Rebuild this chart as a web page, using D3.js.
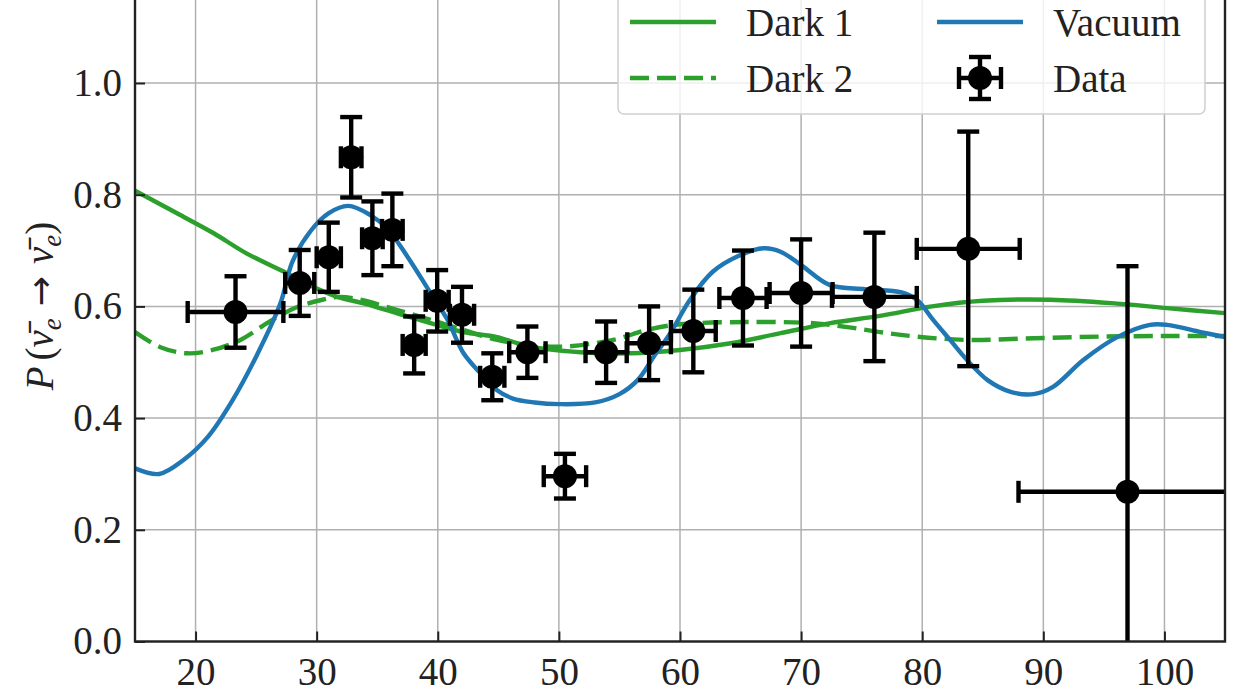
<!DOCTYPE html>
<html>
<head>
<meta charset="utf-8">
<script src="https://cdn.jsdelivr.net/npm/d3@7"></script>
<style>
  html, body { margin: 0; padding: 0; background: #fff; }
  svg { display: block; font-family: "Liberation Serif", "DejaVu Serif", serif; }
  .tick text { font-family: "Liberation Serif", "DejaVu Serif", serif; font-size: 39px; fill: #222; }
  .legend-text { font-size: 39px; fill: #222; }
</style>
</head>
<body>
<div id="chart"></div>
<script>
// ---- data ----
// binned measurements (x = bin centre, y = survival probability)
var dataX    = [23.3, 28.6, 31.0, 32.85, 34.6, 36.25, 38.05, 39.95, 42.0, 44.5, 47.4, 50.5, 53.9, 57.45, 61.1, 65.2, 70.0, 76.05, 83.8, 96.95];
var dataY    = [0.590, 0.642, 0.688, 0.867, 0.722, 0.737, 0.531, 0.610, 0.585, 0.474, 0.518, 0.296, 0.518, 0.534, 0.556, 0.615, 0.624, 0.617, 0.703, 0.268];
var dataXErr = [3.95, 1.2, 1.0, 0.85, 0.85, 0.85, 0.95, 0.95, 1.0, 1.0, 1.5, 1.75, 1.7, 1.8, 1.85, 1.95, 2.6, 3.5, 4.25, 9.0];
var dataYErr = [0.064, 0.059, 0.062, 0.072, 0.066, 0.065, 0.051, 0.055, 0.050, 0.042, 0.046, 0.040, 0.055, 0.066, 0.074, 0.085, 0.096, 0.115, 0.21, 0.404];

// model curves
var vacuumX = [15, 17, 19, 21, 23, 25, 27, 28, 29.5, 31, 32.6, 34.4, 35.8, 37.5, 39.4, 40.8, 42.1, 43.5, 44.9, 46.2, 48, 50, 53, 55, 56.5, 57.8, 59.2, 60.8, 62.7, 65, 66.9, 68.3, 70, 72.4, 75.3, 78.3, 79.6, 80.9, 82.3, 83.7, 85.4, 87.3, 89.2, 90.8, 93.3, 96.1, 98.8, 100.2, 103, 105];
var vacuumY = [0.31, 0.30, 0.325, 0.366, 0.43, 0.51, 0.605, 0.68, 0.735, 0.767, 0.78, 0.764, 0.74, 0.689, 0.624, 0.576, 0.517, 0.481, 0.45, 0.435, 0.428, 0.425, 0.428, 0.443, 0.468, 0.509, 0.552, 0.611, 0.662, 0.692, 0.704, 0.698, 0.674, 0.638, 0.631, 0.625, 0.611, 0.576, 0.54, 0.504, 0.468, 0.447, 0.443, 0.456, 0.504, 0.545, 0.567, 0.567, 0.554, 0.545];

var dark1X = [15, 18.7, 21.5, 24.2, 27.5, 29.7, 31.7, 33.8, 36.6, 39.4, 42.1, 44.9, 47.6, 51.8, 55.9, 60, 64.2, 68.3, 72.4, 76.5, 80.8, 85, 90.6, 96.1, 100.2, 105];
var dark1Y = [0.807, 0.764, 0.731, 0.695, 0.66, 0.635, 0.617, 0.606, 0.588, 0.57, 0.554, 0.545, 0.528, 0.518, 0.516, 0.522, 0.534, 0.552, 0.57, 0.583, 0.6, 0.61, 0.612, 0.605, 0.597, 0.588];

var dark2X = [15, 17.1, 19.3, 21.4, 23.7, 25.9, 27.5, 28.4, 30.3, 31.9, 33.8, 36.6, 39.4, 42.1, 44.9, 47.6, 50.4, 54.5, 57.3, 60, 65.5, 71, 73.8, 76.5, 79.5, 83.7, 89.2, 94.7, 100.2, 105];
var dark2Y = [0.554, 0.527, 0.516, 0.522, 0.54, 0.57, 0.59, 0.599, 0.611, 0.617, 0.611, 0.594, 0.576, 0.558, 0.54, 0.531, 0.528, 0.54, 0.558, 0.568, 0.572, 0.57, 0.563, 0.554, 0.546, 0.54, 0.543, 0.546, 0.547, 0.547];

var xTicks = [20, 30, 40, 50, 60, 70, 80, 90, 100];
var yTicks = [0.0, 0.2, 0.4, 0.6, 0.8, 1.0];

var GREEN = "#2ca02c", BLUE = "#1f77b4";
var LW = 4.4;       // curve / error bar width
var cap = 11;       // error bar cap half-length
var markR = 12;

// ---- layout ----
var width = 1250, height = 700;
var plotLeft = 135, plotRight = 1225, plotBottom = 641.5;
var unitY = 558.5;              // pixels per 1.0 of probability
var yMax = 1.16;                // top of axes sits just above the window

var x = d3.scaleLinear().domain([15, 105]).range([plotLeft, plotRight]);
var y = d3.scaleLinear().domain([0, yMax]).range([plotBottom, plotBottom - yMax * unitY]);
var plotTop = y(yMax);

var svg = d3.select("#chart").append("svg")
  .attr("width", width)
  .attr("height", height);

svg.append("defs").append("clipPath")
    .attr("id", "plot-clip")
  .append("rect")
    .attr("x", plotLeft)
    .attr("y", plotTop)
    .attr("width", plotRight - plotLeft)
    .attr("height", plotBottom - plotTop);

// grid
var grid = svg.append("g").attr("class", "grid");
grid.selectAll(".gx").data(xTicks).enter().append("line")
  .attr("x1", function(d) { return x(d); })
  .attr("x2", function(d) { return x(d); })
  .attr("y1", plotTop).attr("y2", plotBottom)
  .attr("stroke", "#b0b0b0").attr("stroke-width", 1.5);
grid.selectAll(".gy").data(yTicks).enter().append("line")
  .attr("x1", plotLeft).attr("x2", plotRight)
  .attr("y1", function(d) { return y(d); })
  .attr("y2", function(d) { return y(d); })
  .attr("stroke", "#b0b0b0").attr("stroke-width", 1.5);

// curves
var plot = svg.append("g").attr("clip-path", "url(#plot-clip)");

var line = d3.line()
  .x(function(d) { return x(d[0]); })
  .y(function(d) { return y(d[1]); })
  .curve(d3.curveCatmullRom.alpha(0.5));

var curves = [
  { xs: dark1X,  ys: dark1Y,  color: GREEN, dash: "none" },
  { xs: dark2X,  ys: dark2Y,  color: GREEN, dash: "19,8" },
  { xs: vacuumX, ys: vacuumY, color: BLUE,  dash: "none" }
];

curves.forEach(function(c) {
  plot.append("path")
    .datum(d3.zip(c.xs, c.ys))
    .attr("d", line)
    .attr("fill", "none")
    .attr("stroke", c.color)
    .attr("stroke-width", LW)
    .attr("stroke-dasharray", c.dash);
});

// error bars + markers
var points = dataX.map(function(d, i) {
  return { x: d, y: dataY[i], ex: dataXErr[i], ey: dataYErr[i] };
});

var pts = plot.append("g").selectAll(".pt")
  .data(points).enter().append("g")
  .attr("class", "pt")
  .attr("stroke", "#000")
  .attr("stroke-width", LW);

pts.append("line")   // horizontal bar
  .attr("x1", function(d) { return x(d.x - d.ex); })
  .attr("x2", function(d) { return x(d.x + d.ex); })
  .attr("y1", function(d) { return y(d.y); })
  .attr("y2", function(d) { return y(d.y); });
pts.append("line")   // vertical bar
  .attr("x1", function(d) { return x(d.x); })
  .attr("x2", function(d) { return x(d.x); })
  .attr("y1", function(d) { return y(d.y - d.ey); })
  .attr("y2", function(d) { return y(d.y + d.ey); });
[-1, 1].forEach(function(s) {
  pts.append("line")   // caps on x bar
    .attr("x1", function(d) { return x(d.x + s * d.ex); })
    .attr("x2", function(d) { return x(d.x + s * d.ex); })
    .attr("y1", function(d) { return y(d.y) - cap; })
    .attr("y2", function(d) { return y(d.y) + cap; });
  pts.append("line")   // caps on y bar
    .attr("x1", function(d) { return x(d.x) - cap; })
    .attr("x2", function(d) { return x(d.x) + cap; })
    .attr("y1", function(d) { return y(d.y + s * d.ey); })
    .attr("y2", function(d) { return y(d.y + s * d.ey); });
});
pts.append("circle")
  .attr("cx", function(d) { return x(d.x); })
  .attr("cy", function(d) { return y(d.y); })
  .attr("r", markR)
  .attr("stroke", "none")
  .attr("fill", "#000");

// axes (ticks point inward)
var xAxis = d3.axisBottom(x).tickValues(xTicks).tickSize(-10).tickPadding(16)
  .tickFormat(d3.format("d"));
var yAxis = d3.axisLeft(y).tickValues(yTicks).tickSize(-10).tickPadding(13)
  .tickFormat(d3.format(".1f"));

var gx = svg.append("g").attr("transform", "translate(0," + plotBottom + ")").call(xAxis);
var gy = svg.append("g").attr("transform", "translate(" + plotLeft + ",0)").call(yAxis);
[gx, gy].forEach(function(g) {
  g.attr("font-family", null).attr("font-size", null);
  g.select(".domain").remove();
  g.selectAll(".tick line").attr("stroke", "#222").attr("stroke-width", 2);
});

// frame
svg.append("rect")
  .attr("x", plotLeft).attr("y", plotTop)
  .attr("width", plotRight - plotLeft).attr("height", plotBottom - plotTop)
  .attr("fill", "none")
  .attr("stroke", "#222")
  .attr("stroke-width", 2.4);

// y label: P(nu-bar_e -> nu-bar_e)
var ylab = svg.append("text")
  .attr("transform", "translate(53,306) rotate(-90)")
  .attr("text-anchor", "middle")
  .style("font-size", "39px")
  .style("fill", "#222");
ylab.append("tspan").style("font-style", "italic").text("P");
ylab.append("tspan").attr("dx", 6).text("(");
ylab.append("tspan").style("font-style", "italic").text("\u03BD\u0304");
ylab.append("tspan").style("font-style", "italic").style("font-size", "27px").attr("dy", 8).text("e");
ylab.append("tspan").attr("dy", -8).attr("dx", 12)
  .style("font-family", "'DejaVu Sans', sans-serif").style("font-size", "36px")
  .text("\u2192");
ylab.append("tspan").attr("dx", 12).style("font-style", "italic").text("\u03BD\u0304");
ylab.append("tspan").style("font-style", "italic").style("font-size", "27px").attr("dy", 8).text("e");
ylab.append("tspan").attr("dy", -8).text(")");

// legend
var legend = svg.append("g").attr("class", "legend");
legend.append("rect")
  .attr("x", 618).attr("y", -20)
  .attr("width", 587).attr("height", 134)
  .attr("rx", 6)
  .attr("fill", "#fff").attr("fill-opacity", 0.8)
  .attr("stroke", "#cfcfcf").attr("stroke-width", 1.5);

var legendItems = [
  { label: "Dark 1", kind: "line", color: GREEN, dash: "none", lx: 630, tx: 746, cy: 22 },
  { label: "Dark 2", kind: "line", color: GREEN, dash: "19,8", lx: 630, tx: 746, cy: 78 },
  { label: "Vacuum", kind: "line", color: BLUE, dash: "none", lx: 937, tx: 1053, cy: 22 },
  { label: "Data", kind: "data", lx: 937, tx: 1053, cy: 78 }
];

legendItems.forEach(function(d) {
  if (d.kind === "line") {
    legend.append("line")
      .attr("x1", d.lx).attr("x2", d.lx + 86)
      .attr("y1", d.cy).attr("y2", d.cy)
      .attr("stroke", d.color)
      .attr("stroke-width", LW)
      .attr("stroke-dasharray", d.dash);
  } else {
    var cx = d.lx + 43, arm = 21;
    var g = legend.append("g").attr("stroke", "#000").attr("stroke-width", LW);
    g.append("line").attr("x1", cx - arm).attr("x2", cx + arm).attr("y1", d.cy).attr("y2", d.cy);
    g.append("line").attr("x1", cx).attr("x2", cx).attr("y1", d.cy - arm).attr("y2", d.cy + arm);
    g.append("line").attr("x1", cx - arm).attr("x2", cx - arm).attr("y1", d.cy - cap).attr("y2", d.cy + cap);
    g.append("line").attr("x1", cx + arm).attr("x2", cx + arm).attr("y1", d.cy - cap).attr("y2", d.cy + cap);
    g.append("line").attr("x1", cx - cap).attr("x2", cx + cap).attr("y1", d.cy - arm).attr("y2", d.cy - arm);
    g.append("line").attr("x1", cx - cap).attr("x2", cx + cap).attr("y1", d.cy + arm).attr("y2", d.cy + arm);
    legend.append("circle").attr("cx", cx).attr("cy", d.cy).attr("r", markR).attr("fill", "#000");
  }
  legend.append("text")
    .attr("class", "legend-text")
    .attr("x", d.tx)
    .attr("y", d.cy)
    .attr("dy", "0.36em")
    .text(d.label);
});
</script>
</body>
</html>
